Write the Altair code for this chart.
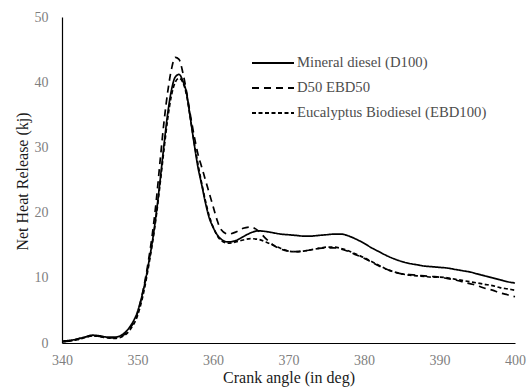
import altair as alt
import pandas as pd

# Crank angle positions (deg); finer steps around the combustion peak
crank_angle = [340, 341, 342, 343, 344, 345, 346, 347, 348, 349,
               350, 350.5, 351, 351.5, 352, 352.5, 353, 353.5, 354, 354.5,
               355, 355.5, 356, 356.5, 357, 357.5, 358, 358.5, 359, 359.5,
               360, 360.5, 361, 362, 363, 364, 365, 366, 367, 368, 369,
               370, 371, 372, 373, 374, 375, 376, 377, 378, 379,
               380, 381, 382, 383, 384, 385, 386, 387, 388, 389,
               390, 391, 392, 393, 394, 395, 396, 397, 398, 399, 400]

# Net heat release (kJ) per fuel
d100 = [0.3, 0.4, 0.6, 0.9, 1.2, 1.1, 0.9, 0.9, 1.3, 2.5,
        4.8, 6.8, 9.3, 12.4, 15.8, 20.0, 25.0, 30.3, 35.2, 38.8,
        40.8, 41.2, 40.2, 38.3, 34.5, 30.6, 27.0, 24.3, 21.5, 19.2,
        17.8, 16.7, 16.0, 15.5, 15.7, 16.3, 16.9, 17.2, 17.1, 16.9, 16.7,
        16.6, 16.5, 16.4, 16.4, 16.5, 16.6, 16.7, 16.7, 16.4, 15.9,
        15.3, 14.6, 14.0, 13.4, 12.9, 12.5, 12.2, 12.0, 11.8, 11.7,
        11.6, 11.5, 11.3, 11.1, 10.9, 10.6, 10.3, 10.0, 9.7, 9.4, 9.2]

d50_ebd50 = [0.2, 0.3, 0.6, 0.9, 1.1, 1.0, 0.8, 0.8, 1.1, 2.2,
             4.6, 6.8, 9.6, 13.0, 17.0, 22.0, 28.0, 33.8, 38.5, 42.0,
             43.8, 43.5, 41.5, 38.5, 35.0, 31.8, 29.0, 27.0, 25.0, 23.0,
             21.0, 19.0, 17.5, 16.7, 17.0, 17.6, 17.8, 17.2, 16.0, 15.0, 14.4,
             14.1, 14.0, 14.1, 14.3, 14.5, 14.6, 14.6, 14.4, 14.0, 13.5,
             13.0, 12.4, 11.8, 11.3, 10.9, 10.6, 10.5, 10.4, 10.3, 10.2,
             10.1, 9.9, 9.7, 9.4, 9.1, 8.8, 8.4, 8.1, 7.7, 7.4, 7.1]

ebd100 = [0.2, 0.3, 0.5, 0.8, 1.1, 1.0, 0.8, 0.7, 1.0, 2.0,
          4.2, 6.2, 8.8, 12.0, 15.5, 19.6, 24.5, 29.6, 34.4, 38.0,
          40.0, 40.6, 40.0, 38.0, 34.5, 30.8, 27.5, 24.5, 21.8, 19.5,
          17.8, 16.6, 15.8, 15.3, 15.5, 15.8, 16.0, 15.9, 15.5, 15.0, 14.5,
          14.1, 14.0, 14.1, 14.3, 14.5, 14.7, 14.7, 14.5, 14.1, 13.6,
          13.1, 12.5, 11.9, 11.3, 10.9, 10.6, 10.4, 10.3, 10.2, 10.1,
          10.1, 10.0, 9.8, 9.6, 9.4, 9.2, 9.0, 8.8, 8.5, 8.3, 8.1]

series_names = ["Mineral diesel (D100)", "D50 EBD50", "Eucalyptus Biodiesel (EBD100)"]
series_values = [d100, d50_ebd50, ebd100]
dash_styles = [[1, 0], [7, 5], [4, 2.5]]

FONT = "Liberation Serif"

frames = []
for name, vals in zip(series_names, series_values):
    frames.append(pd.DataFrame({"angle": crank_angle, "heat": vals, "fuel": name}))
df = pd.concat(frames, ignore_index=True)

lines = alt.Chart(df).mark_line(color="black", strokeWidth=1.7, interpolate="monotone").encode(
    x=alt.X("angle:Q",
            scale=alt.Scale(domain=[340, 400], nice=False),
            axis=alt.Axis(title="Crank angle (in deg)", values=[340, 350, 360, 370, 380, 390, 400],
                          grid=False, ticks=False, domainColor="black", domainWidth=1.2,
                          labelFlush=False,
                          labelFont=FONT, labelFontSize=14, labelColor="#7f7f7f", labelPadding=10,
                          titleFont=FONT, titleFontSize=16, titleFontWeight="normal",
                          titleColor="#1a1a1a", titleBaseline="middle", titleY=34)),
    y=alt.Y("heat:Q",
            scale=alt.Scale(domain=[0, 50], nice=False),
            axis=alt.Axis(title="Net Heat Release (kj)", values=[0, 10, 20, 30, 40, 50],
                          grid=False, ticks=False, domainColor="black", domainWidth=1.2,
                          labelFlush=False,
                          labelFont=FONT, labelFontSize=14, labelColor="#7f7f7f", labelPadding=14,
                          titleFont=FONT, titleFontSize=16, titleFontWeight="normal",
                          titleColor="#1a1a1a", titleAngle=270, titleAlign="center",
                          titleBaseline="middle", titleX=-40, titleY=164)),
    strokeDash=alt.StrokeDash("fuel:N", scale=alt.Scale(domain=series_names, range=dash_styles),
                              legend=None),
    detail="fuel:N",
)

# Legend drawn as sample strokes with labels, top-right of the plot
legend_layers = []
one = pd.DataFrame({"k": [0]})
for i, (name, dash) in enumerate(zip(series_names, dash_styles)):
    row_y = 46 + 25 * i
    legend_layers.append(
        alt.Chart(one).mark_rule(color="black", strokeWidth=1.8, strokeDash=dash).encode(
            x=alt.value(190), x2=alt.value(232), y=alt.value(row_y)))
    legend_layers.append(
        alt.Chart(one).mark_text(text=name, align="left", baseline="middle", font=FONT,
                                 fontSize=14.7, color="#4d4d4d").encode(
            x=alt.value(235), y=alt.value(row_y)))

chart = alt.layer(lines, *legend_layers).properties(
    width=453, height=326,
    autosize=alt.AutoSizeParams(type="none"),
    padding={"left": 62, "top": 17, "right": 14, "bottom": 47},
    background="white",
).configure_view(stroke=None)

chart.save("out.html", embed_options={"renderer": "svg", "actions": False})
